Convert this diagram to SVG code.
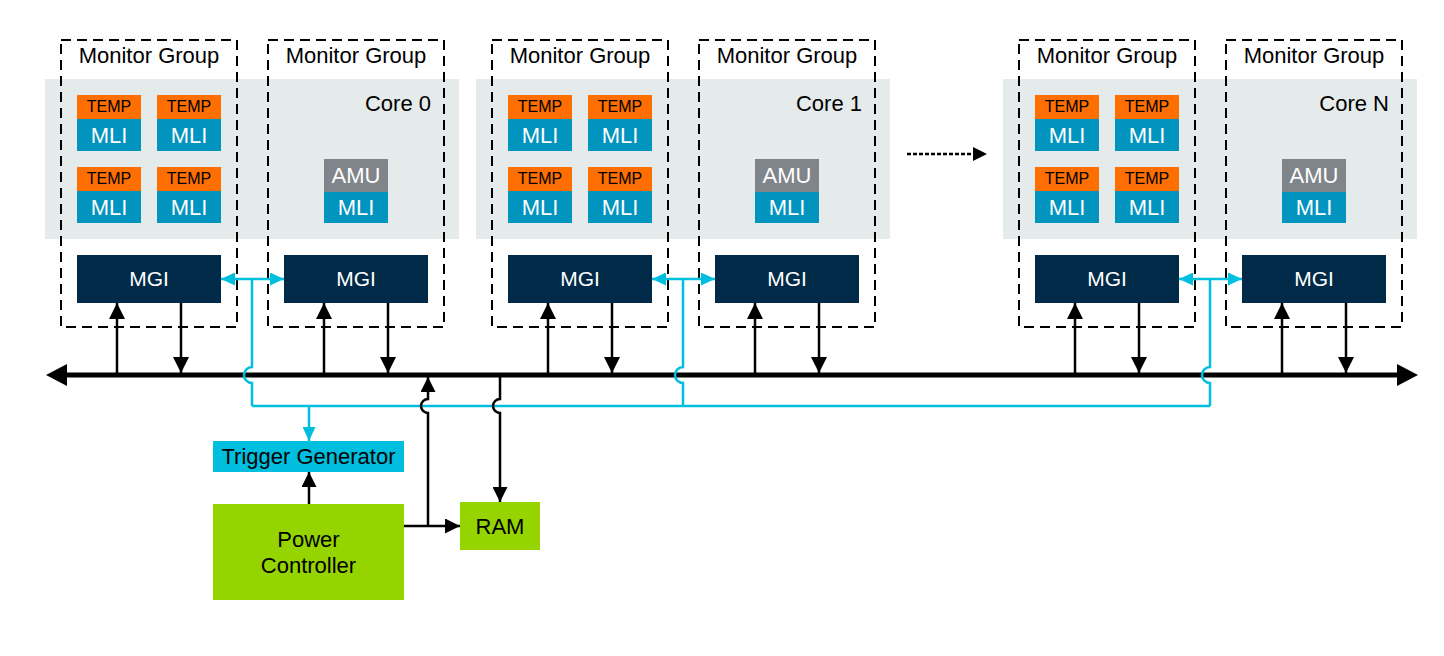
<svg xmlns="http://www.w3.org/2000/svg" width="1444" height="656" viewBox="0 0 1444 656">
<defs>
<style>
text{font-family:"Liberation Sans",Arial,sans-serif;font-size:22px;}
.band{fill:#E5EAEA;}
.mg{fill:none;stroke:#000;stroke-width:2;stroke-dasharray:10 6;}
.temp{fill:#FF6E00;}
.mli{fill:#0094BF;}
.amu{fill:#7F858A;}
.mgi{fill:#002A48;}
.tg{fill:#00BEDD;}
.green{fill:#96D400;}
.c{text-anchor:middle;}
.w{fill:#fff;}
.k{fill:#000;}
.t16{font-size:16px;}
.t21{font-size:21px;}
.bl{fill:none;stroke:#000;stroke-width:2.5;}
.cy{fill:none;stroke:#00BEDD;stroke-width:2.5;}
</style>
<marker id="ak" markerUnits="userSpaceOnUse" markerWidth="16" markerHeight="16" refX="16" refY="8" orient="auto-start-reverse" viewBox="0 0 16 16">
<path d="M0,0 L16,8 L0,16 z" fill="#000"/>
</marker>
<marker id="ak2" markerUnits="userSpaceOnUse" markerWidth="15" markerHeight="15" refX="15" refY="7.5" orient="auto" viewBox="0 0 15 15">
<path d="M0,0 L15,7.5 L0,15 z" fill="#000"/>
</marker>
<marker id="ac" markerUnits="userSpaceOnUse" markerWidth="14" markerHeight="13" refX="14" refY="6.5" orient="auto-start-reverse" viewBox="0 0 14 13">
<path d="M0,0 L14,6.5 L0,13 z" fill="#00BEDD"/>
</marker>
<g id="coreTpl">
<rect class="band" x="45" y="79" width="414" height="160"/>
<rect class="mg" x="61" y="40" width="176" height="287"/>
<rect class="mg" x="268" y="40" width="176" height="287"/>
<text class="c" x="149" y="63">Monitor Group</text>
<text class="c" x="356" y="63">Monitor Group</text>
<rect class="temp" x="77" y="95" width="64" height="24"/>
<rect class="mli" x="77" y="119" width="64" height="32"/>
<text class="c t16" x="109" y="112">TEMP</text>
<text class="c w" x="109" y="143">MLI</text>
<rect class="temp" x="157" y="95" width="64" height="24"/>
<rect class="mli" x="157" y="119" width="64" height="32"/>
<text class="c t16" x="189" y="112">TEMP</text>
<text class="c w" x="189" y="143">MLI</text>
<rect class="temp" x="77" y="167" width="64" height="24"/>
<rect class="mli" x="77" y="191" width="64" height="32"/>
<text class="c t16" x="109" y="184">TEMP</text>
<text class="c w" x="109" y="215">MLI</text>
<rect class="temp" x="157" y="167" width="64" height="24"/>
<rect class="mli" x="157" y="191" width="64" height="32"/>
<text class="c t16" x="189" y="184">TEMP</text>
<text class="c w" x="189" y="215">MLI</text>
<rect class="amu" x="324" y="159" width="64" height="33"/>
<rect class="mli" x="324" y="192" width="64" height="31"/>
<text class="c w" x="356" y="183">AMU</text>
<text class="c w" x="356" y="215">MLI</text>
<rect class="mgi" x="77" y="255" width="144" height="48"/>
<text class="c w t21" x="149" y="286">MGI</text>
<rect class="mgi" x="284" y="255" width="144" height="48"/>
<text class="c w t21" x="356" y="286">MGI</text>
</g>
</defs>

<g id="core0">
<use href="#coreTpl"/>
<text x="431" y="111" text-anchor="end">Core 0</text>
</g>
<g id="core1" transform="translate(431,0)">
<use href="#coreTpl"/>
<text x="431" y="111" text-anchor="end">Core 1</text>
</g>
<g id="coreN" transform="translate(958,0)">
<use href="#coreTpl"/>
<text x="431" y="111" text-anchor="end">Core N</text>
</g>

<g id="trigger-generator">
<rect class="tg" x="213" y="441" width="191" height="31"/>
<text class="c" x="308.5" y="464">Trigger Generator</text>
</g>
<g id="power-controller">
<rect class="green" x="213" y="504" width="191" height="96"/>
<text class="c" x="308.5" y="547">Power</text>
<text class="c" x="308.5" y="573">Controller</text>
</g>
<g id="ram">
<rect class="green" x="460" y="502" width="80" height="48"/>
<text class="c" x="500" y="534">RAM</text>
</g>

<g id="connectors">
<line x1="64" y1="375" x2="1399" y2="375" stroke="#000" stroke-width="5"/>
<path d="M46,375 L67,364 L67,386 z" fill="#000"/>
<path d="M1418,375 L1397,364 L1397,386 z" fill="#000"/>
<g id="bus-links-0">
<path class="bl" d="M117,373 V303" marker-end="url(#ak)"/>
<path class="bl" d="M181,303 V373" marker-end="url(#ak)"/>
<path class="bl" d="M324,373 V303" marker-end="url(#ak)"/>
<path class="bl" d="M388,303 V373" marker-end="url(#ak)"/>
</g>
<g id="bus-links-1" transform="translate(431,0)">
<path class="bl" d="M117,373 V303" marker-end="url(#ak)"/>
<path class="bl" d="M181,303 V373" marker-end="url(#ak)"/>
<path class="bl" d="M324,373 V303" marker-end="url(#ak)"/>
<path class="bl" d="M388,303 V373" marker-end="url(#ak)"/>
</g>
<g id="bus-links-N" transform="translate(958,0)">
<path class="bl" d="M117,373 V303" marker-end="url(#ak)"/>
<path class="bl" d="M181,303 V373" marker-end="url(#ak)"/>
<path class="bl" d="M324,373 V303" marker-end="url(#ak)"/>
<path class="bl" d="M388,303 V373" marker-end="url(#ak)"/>
</g>
<path class="cy" d="M221,279 H284" marker-start="url(#ac)" marker-end="url(#ac)"/>
<path class="cy" d="M252,279 V367 A8,8 0 0 0 252,383 V406"/>
<path class="cy" d="M652,279 H715" marker-start="url(#ac)" marker-end="url(#ac)"/>
<path class="cy" d="M683,279 V367 A8,8 0 0 0 683,383 V406"/>
<path class="cy" d="M1179,279 H1242" marker-start="url(#ac)" marker-end="url(#ac)"/>
<path class="cy" d="M1210,279 V367 A8,8 0 0 0 1210,383 V406"/>
<path class="cy" d="M252,406 H1210"/>
<path class="cy" d="M309,406 V441" marker-end="url(#ac)"/>
<path class="bl" d="M309,504 V472" marker-end="url(#ak2)"/>
<path class="bl" d="M404,526 H460" marker-end="url(#ak2)"/>
<path class="bl" d="M428,526 V413 A7,7 0 0 1 428,399 V377" marker-end="url(#ak2)"/>
<path class="bl" d="M500,375 V399 A7,7 0 0 0 500,413 V502" marker-end="url(#ak2)"/>
<line x1="907" y1="154" x2="975" y2="154" stroke="#000" stroke-width="2.5" stroke-dasharray="4 2"/>
<path d="M987,154 L973,147 L973,161 z" fill="#000"/>
</g>
</svg>
